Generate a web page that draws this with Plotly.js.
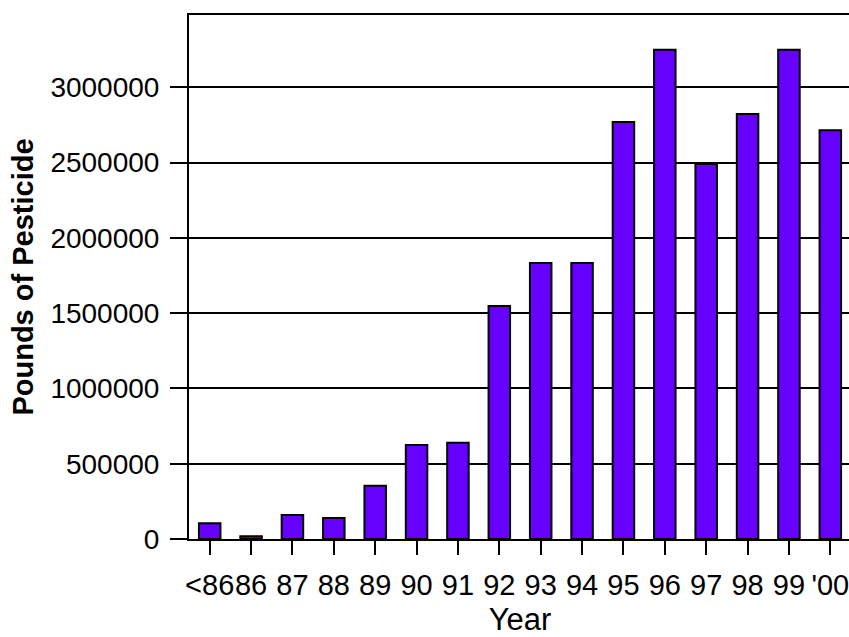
<!DOCTYPE html>
<html>
<head>
<meta charset="utf-8">
<script src="https://cdn.plot.ly/plotly-3.0.1.min.js"></script>
<style>
  html, body { margin: 0; padding: 0; overflow: hidden; background: #fff; }
  #chart { width: 870px; height: 637px; }
</style>
</head>
<body>
<div id="chart"></div>
<script>
// Year categories (x axis tick labels)
const years = ['<86', '86', '87', '88', '89', '90', '91', '92', '93', '94', '95', '96', '97', '98', '99', "'00"];
// Pounds of pesticide per year
const pounds = [105000, 18000, 160000, 140000, 354000, 625000, 640000, 1547000, 1833000, 1833000, 2770000, 3250000, 2490000, 2823000, 3250000, 2714000];
// Y axis tick values
const yTicks = [0, 500000, 1000000, 1500000, 2000000, 2500000, 3000000];

const fontFam = 'Liberation Sans, Arial, sans-serif';

const trace = {
  type: 'bar',
  x: years,
  y: pounds,
  marker: { color: '#6600FF', line: { color: '#000000', width: 2 } },
  hoverinfo: 'x+y'
};

const layout = {
  width: 870,
  height: 637,
  margin: { l: 189, r: 19, t: 15, b: 98, pad: 0 },
  paper_bgcolor: '#ffffff',
  plot_bgcolor: '#ffffff',
  showlegend: false,
  bargap: 0.48,
  font: { family: fontFam, color: '#000' },
  xaxis: {
    type: 'category',
    tickangle: 0,
    showline: true, linecolor: '#000', linewidth: 2, mirror: true,
    ticks: 'outside', ticklen: 14, tickwidth: 2, tickcolor: '#000',
    tickfont: { family: fontFam, size: 29, color: '#000' },
    ticklabelstandoff: 5,
    showgrid: false, zeroline: false,
    automargin: false,
    title: { text: 'Year', font: { family: fontFam, size: 31, color: '#000' }, standoff: 18 }
  },
  yaxis: {
    range: [0, 3480000],
    tickvals: yTicks,
    tickformat: 'd',
    showline: true, linecolor: '#000', linewidth: 2, mirror: true,
    ticks: 'outside', ticklen: 17, tickwidth: 2, tickcolor: '#000',
    tickfont: { family: fontFam, size: 28, color: '#000' },
    ticklabelstandoff: 5,
    showgrid: true, gridcolor: '#000', gridwidth: 2,
    zeroline: false,
    automargin: false,
    title: { text: 'Pounds of Pesticide', font: { family: fontFam, size: 29, color: '#000', weight: 'bold' }, standoff: 8 }
  }
};

Plotly.newPlot('chart', [trace], layout, { displayModeBar: false, staticPlot: true });
</script>
</body>
</html>
